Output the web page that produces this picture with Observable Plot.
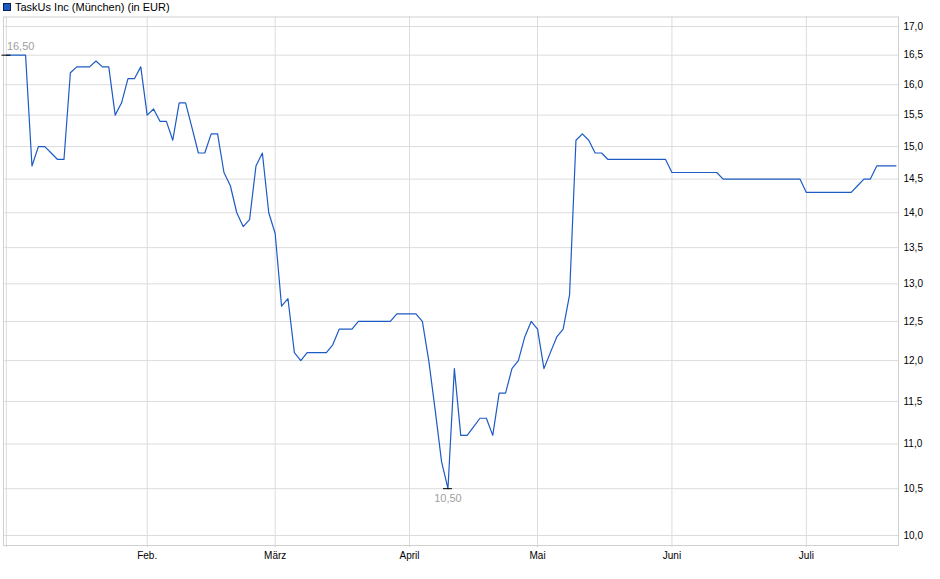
<!DOCTYPE html>
<html>
<head>
<meta charset="utf-8">
<script src="https://cdn.jsdelivr.net/npm/d3@7"></script>
<script src="https://cdn.jsdelivr.net/npm/@observablehq/plot@0.6"></script>
<style>
  html, body { margin: 0; padding: 0; background: #fff; }
  #wrap { position: relative; width: 940px; height: 579px; font-family: "Liberation Sans", Arial, sans-serif; }
  #title { position: absolute; left: 3px; top: 0px; font-size: 11px; line-height: 14px; color: #000; display: flex; align-items: center; white-space: nowrap; }
  #title .sw { display: inline-block; width: 6px; height: 6px; background: #1d5bc4; border: 1px solid #0a2050; margin-right: 4px; }
  #chart { position: absolute; left: 0; top: 0; }
</style>
</head>
<body>
<div id="wrap">
  <div id="chart"></div>
  <div id="title"><span class="sw"></span>TaskUs Inc (München) (in EUR)</div>
</div>
<script>
// Daily closing prices (EUR), one per trading day, Jan 2 – Jul 21
const prices = [
  16.5, 16.5, 16.5, 16.5, 14.7, 15.0, 15.0, 14.9, 14.8, 14.8,
  16.2, 16.3, 16.3, 16.3, 16.4, 16.3, 16.3, 15.5, 15.7, 16.1,
  16.1, 16.3, 15.5, 15.6, 15.4, 15.4, 15.1, 15.7, 15.7, 15.3,
  14.9, 14.9, 15.2, 15.2, 14.6, 14.4, 14.0, 13.8, 13.9, 14.7,
  14.9, 14.0, 13.7, 12.7, 12.8, 12.1, 12.0, 12.1, 12.1, 12.1,
  12.1, 12.2, 12.4, 12.4, 12.4, 12.5, 12.5, 12.5, 12.5, 12.5,
  12.5, 12.6, 12.6, 12.6, 12.6, 12.5, 12.0, 11.4, 10.8, 10.5,
  11.9, 11.1, 11.1, 11.2, 11.3, 11.3, 11.1, 11.6, 11.6, 11.9,
  12.0, 12.3, 12.5, 12.4, 11.9, 12.1, 12.3, 12.4, 12.85, 15.1,
  15.2, 15.1, 14.9, 14.9, 14.8, 14.8, 14.8, 14.8, 14.8, 14.8,
  14.8, 14.8, 14.8, 14.8, 14.6, 14.6, 14.6, 14.6, 14.6, 14.6,
  14.6, 14.6, 14.5, 14.5, 14.5, 14.5, 14.5, 14.5, 14.5, 14.5,
  14.5, 14.5, 14.5, 14.5, 14.5, 14.3, 14.3, 14.3, 14.3, 14.3,
  14.3, 14.3, 14.3, 14.4, 14.5, 14.5, 14.7, 14.7, 14.7, 14.7
];
// trading-day index of each month start and its label
const monthStarts = [0, 22, 42, 63, 83, 104, 125];
const monthLabels = ["", "Feb.", "März", "April", "Mai", "Juni", "Juli"];
const yTicks = [10.0, 10.5, 11.0, 11.5, 12.0, 12.5, 13.0, 13.5, 14.0, 14.5, 15.0, 15.5, 16.0, 16.5, 17.0];

const series = prices.map((v, i) => ({i, v}));
const hi = series.reduce((a, b) => (b.v > a.v ? b : a));
const lo = series.reduce((a, b) => (b.v < a.v ? b : a));
const labelOf = new Map(monthStarts.map((m, k) => [m, monthLabels[k]]));
const fmt1 = d => d.toFixed(1).replace(".", ",");
const fmt2 = d => d.toFixed(2).replace(".", ",");

const chart = Plot.plot({
  width: 940,
  height: 579,
  marginTop: 16.5,
  marginBottom: 34,
  marginLeft: 3,
  marginRight: 42,
  style: {fontFamily: "'Liberation Sans', Arial, sans-serif", fontSize: "10px", background: "transparent", color: "#000"},
  x: {domain: [-0.45, 139.4], label: null},
  y: {type: "log", domain: [9.896, 17.17], label: null},
  marks: [
    Plot.gridY(yTicks, {stroke: "#dcdcdc", strokeOpacity: 1, strokeWidth: 1}),
    Plot.gridX(monthStarts, {stroke: "#dcdcdc", strokeOpacity: 1, strokeWidth: 1}),
    Plot.frame({stroke: "#d0d0d0", strokeWidth: 1}),
    Plot.axisY(yTicks, {anchor: "right", label: null, tickSize: 0, tickPadding: 5, tickFormat: fmt1, fill: "#000", fontSize: 10}),
    Plot.axisX(monthStarts, {anchor: "bottom", label: null, tickSize: 2, stroke: "#d0d0d0", tickPadding: 4, tickFormat: d => labelOf.get(d), fill: "#000", fontSize: 10}),
    Plot.lineY(series, {x: "i", y: "v", stroke: "#1d5bc4", strokeWidth: 1.2}),
    Plot.ruleY([hi, lo], {y: "v", x1: d => d.i - 0.7, x2: d => d.i + 0.7, stroke: "#000", strokeWidth: 1}),
    Plot.text([hi], {x: "i", y: "v", text: d => fmt2(d.v), textAnchor: "start", dx: 0.5, dy: -9, fill: "#a0a0a0", fontSize: 11}),
    Plot.text([lo], {x: "i", y: "v", text: d => fmt2(d.v), textAnchor: "middle", dy: 10, fill: "#a0a0a0", fontSize: 11})
  ]
});
document.getElementById("chart").appendChild(chart);
</script>
</body>
</html>
